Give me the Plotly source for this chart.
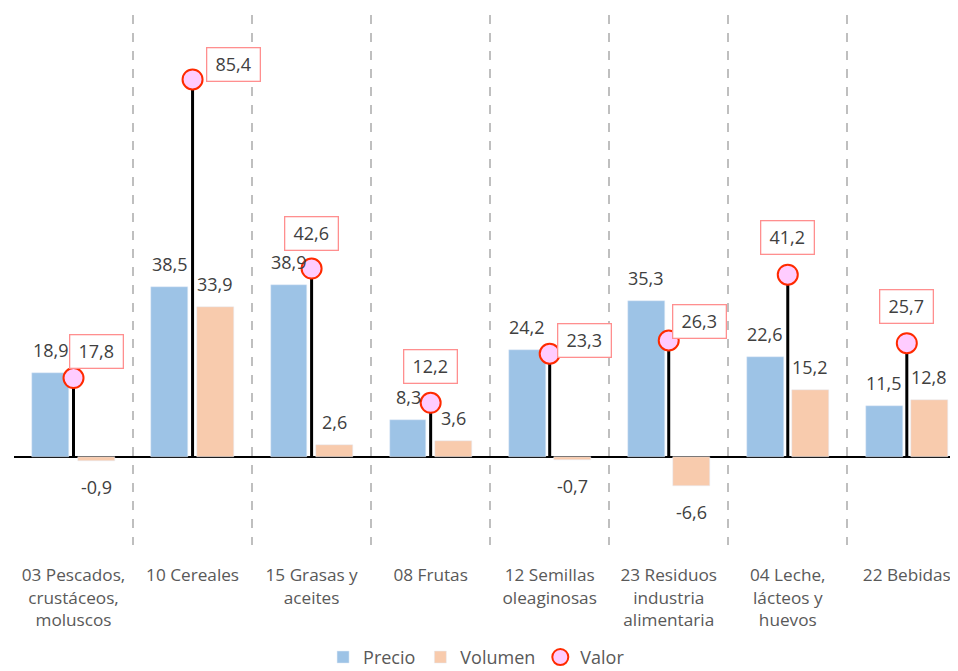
import plotly.graph_objects as go

categories = ["03", "10", "15", "08", "12", "23", "04", "22"]
tick_labels = [
    "03 Pescados,<br>crustáceos,<br>moluscos",
    "10 Cereales",
    "15 Grasas y<br>aceites",
    "08 Frutas",
    "12 Semillas<br>oleaginosas",
    "23 Residuos<br>industria<br>alimentaria",
    "04 Leche,<br>lácteos y<br>huevos",
    "22 Bebidas",
]
precio = [18.9, 38.5, 38.9, 8.3, 24.2, 35.3, 22.6, 11.5]
volumen = [-0.9, 33.9, 2.6, 3.6, -0.7, -6.6, 15.2, 12.8]
valor = [17.8, 85.4, 42.6, 12.2, 23.3, 26.3, 41.2, 25.7]

# label box offsets (pixels) for Valor labels, as placed in the original
valor_label_offsets = [(23, 27), (41, 15), (0, 35), (0, 36), (35, 13), (31, 19), (0, 37), (0, 37)]

FONT = "Open Sans"
TXT = "#404040"
BLUE = "#9DC3E6"
ORANGE = "#F8CBAD"

def fmt(v):
    return f"{v:.1f}".replace(".", ",")

fig = go.Figure()
fig.add_trace(go.Bar(x=categories, y=precio, name="Precio", marker_color=BLUE,
                     offset=-0.345, width=0.31))
fig.add_trace(go.Bar(x=categories, y=volumen, name="Volumen", marker_color=ORANGE,
                     offset=0.035, width=0.31))

stem_x, stem_y = [], []
for c, v in zip(categories, valor):
    stem_x += [c, c, None]
    stem_y += [0, v, None]
fig.add_trace(go.Scatter(x=stem_x, y=stem_y, mode="lines", line=dict(color="black", width=3),
                         showlegend=False, hoverinfo="skip"))
fig.add_trace(go.Scatter(x=categories, y=valor, mode="markers", name="Valor",
                         marker=dict(size=20, color="#FFCCFF", line=dict(color="#FF2A00", width=2))))

ann = []
for i, v in enumerate(precio):
    ann.append(dict(x=i, y=v, text=fmt(v), showarrow=False, xshift=-22.6,
                    yshift=23 if v >= 0 else -26, font=dict(family=FONT, size=18, color=TXT)))
for i, v in enumerate(volumen):
    ann.append(dict(x=i, y=v, text=fmt(v), showarrow=False, xshift=22.6,
                    yshift=23 if v >= 0 else -26, font=dict(family=FONT, size=18, color=TXT)))
for i, (v, (dx, dy)) in enumerate(zip(valor, valor_label_offsets)):
    ann.append(dict(x=i, y=v, text=fmt(v), showarrow=False, xshift=dx, yshift=dy,
                    font=dict(family=FONT, size=18, color=TXT),
                    bordercolor="#FF8F8F", borderwidth=1.3, borderpad=4, bgcolor="white",
                    width=44))

fig.update_layout(
    width=958, height=671,
    margin=dict(l=6, r=8, t=7, b=134, autoexpand=False),
    paper_bgcolor="white", plot_bgcolor="white",
    font=dict(family=FONT, size=18, color="#595959"),
    annotations=ann,
    showlegend=True,
    legend=dict(orientation="h", x=0.49, xanchor="center", y=-0.212, yanchor="middle",
                font=dict(family=FONT, size=18, color="#595959"),
                itemclick=False, itemwidth=30, tracegroupgap=0),
    bargap=0,
)
fig.update_xaxes(
    type="category", categoryorder="array", categoryarray=categories,
    tickvals=categories, ticktext=tick_labels,
    range=[-0.5, 7.43], tickson="boundaries", automargin=False,
    showgrid=True, gridcolor="#BFBFBF", gridwidth=1.5, griddash="dash",
    ticks="", ticklabelstandoff=18, showline=False, zeroline=False,
    tickfont=dict(family=FONT, size=17.2, color="#595959"),
)
fig.update_yaxes(
    range=[-20, 100], showgrid=False, showticklabels=False, ticks="", automargin=False,
    zeroline=True, zerolinecolor="black", zerolinewidth=2, showline=False,
)

fig.write_html("out.html")
